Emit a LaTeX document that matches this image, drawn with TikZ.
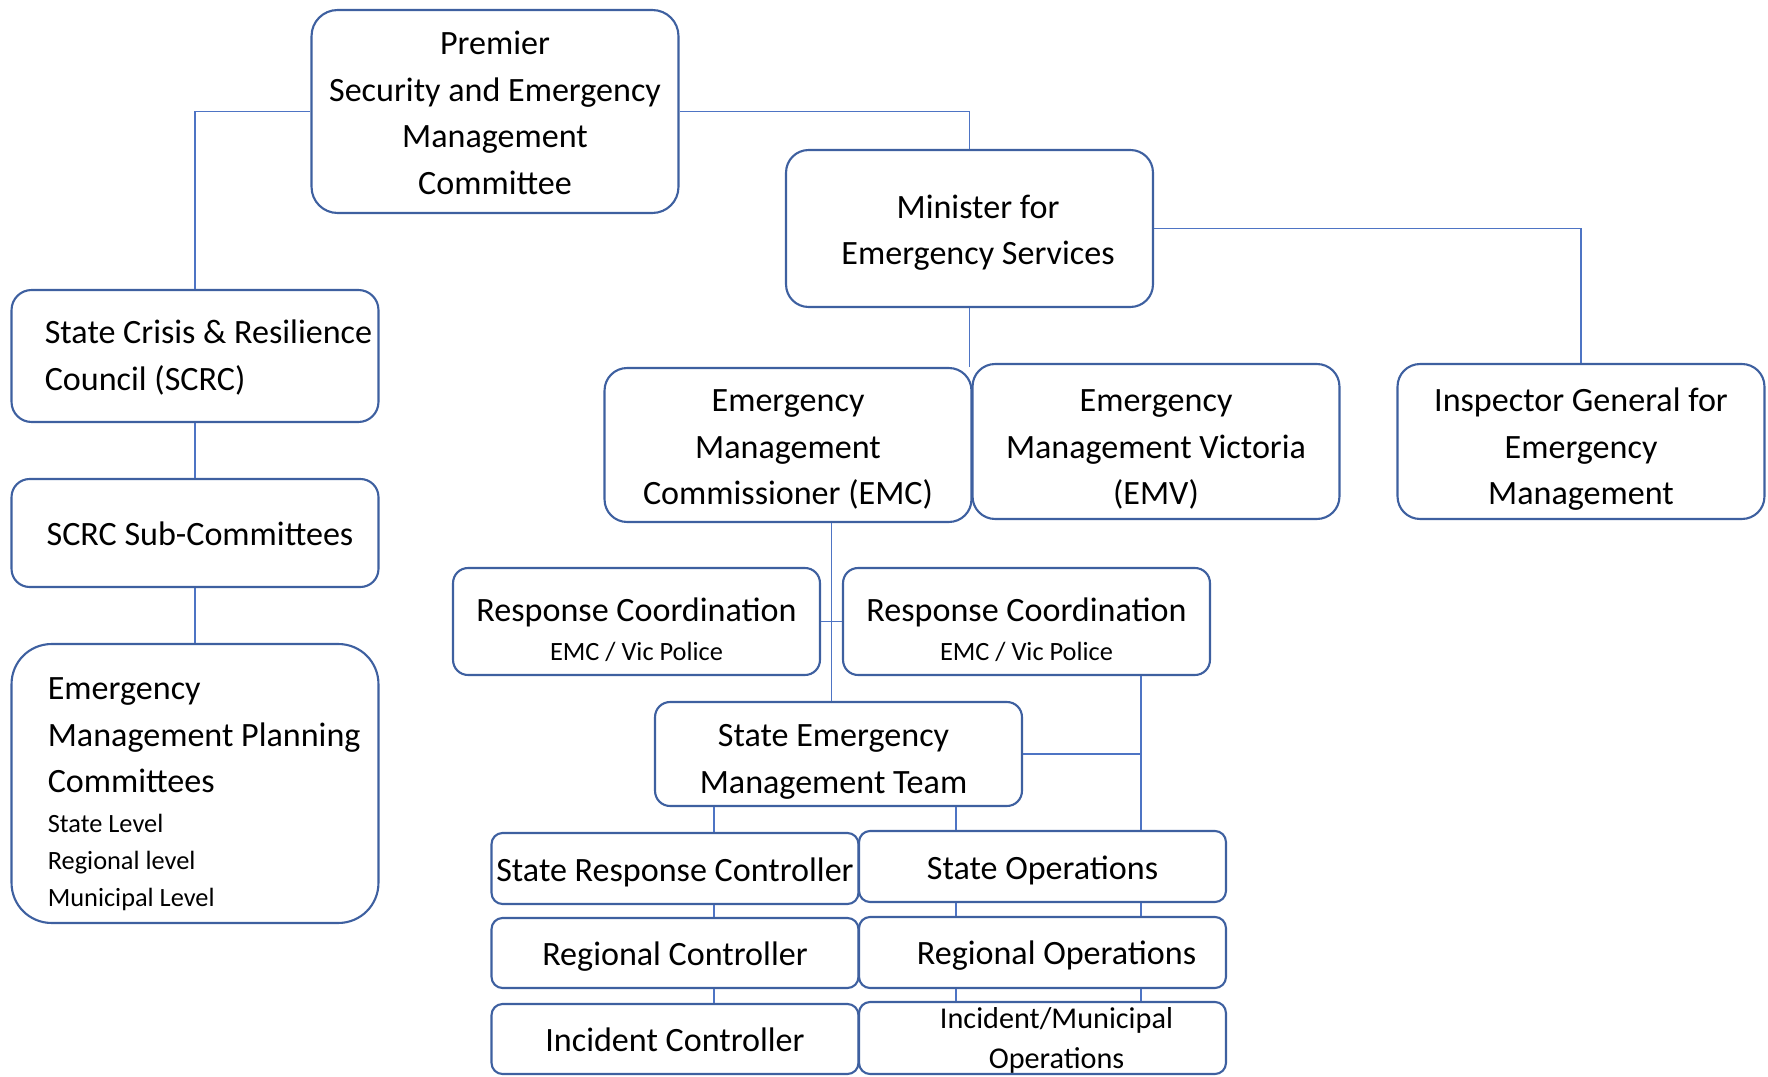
\documentclass[tikz,border=0pt]{standalone}
\usepackage{fontspec}
\setmainfont{Carlito}
\usepackage{tikz}
\definecolor{boxblue}{RGB}{62,96,160}
\definecolor{linkblue}{RGB}{78,116,196}
\newcommand\bigtxt{\fontsize{19.4}{26.4}\selectfont}
\newcommand\smalltxt{\fontsize{15}{21}\selectfont}

\begin{document}
\begin{tikzpicture}[x=0.02cm,y=-0.02cm,
    strut/.style={execute at begin node={\rule[-5pt]{0pt}{#1}}},
    box/.style={draw=boxblue,line width=1.2pt,fill=white,rounded corners=#1,
      minimum width=7.34cm,align=center,inner sep=0pt,font=\bigtxt,strut=24pt},
    box/.default=0.3cm,
    link/.style={draw=linkblue,line width=0.8pt},
    lefttxt/.style={anchor=west,align=left,inner sep=0pt,font=\bigtxt}]
  \useasboundingbox (0,0) rectangle (1768,1077);

  \node[box=0.52cm,minimum height=4.06cm,strut=104pt] (prem) at (495,111.5)
    {Premier\\Security and Emergency\\Management\\Committee};
  \node[box=0.45cm,minimum height=3.14cm,strut=51.2pt] (min) at (969.5,228.5)
    {\hspace*{0.34cm}Minister for\\\hspace*{0.34cm}Emergency Services};

  \node[box=0.4cm,minimum height=2.64cm] (scrc) at (195,356) {};
  \node[lefttxt] (scrctxt) at ([xshift=0.68cm,yshift=-0.03cm]scrc.west)
    {State Crisis \& Resilience\\Council (SCRC)};
  \node[box=0.36cm,minimum height=2.16cm] (scrcsub) at (195,533)
    {\hspace*{0.2cm}SCRC Sub-Committees};
  \node[box=0.8cm,minimum height=5.58cm] (empc) at (195,783.5) {};
  \node[lefttxt] (empctxt) at ([xshift=0.74cm,yshift=-0.22cm]empc.west)
    {Emergency\\Management Planning\\Committees\\[-3.5pt]
     \smalltxt State Level\\[-5.4pt]\smalltxt Regional level\\[-5.4pt]\smalltxt Municipal Level};

  \node[box=0.45cm,minimum height=3.08cm,strut=77.6pt] (emc) at (788,445)
    {Emergency\\Management\\Commissioner (EMC)};
  \node[box=0.45cm,minimum height=3.1cm,strut=81.9pt] (emv) at (1156,441.5)
    {Emergency\\Management Victoria\\(EMV)};
  \node[box=0.45cm,minimum height=3.1cm,strut=81.9pt] (igem) at (1581,441.5)
    {Inspector General for\\Emergency\\Management};

  \node[box,minimum height=2.14cm,strut=54.5pt] (rc1) at (636.5,621.5)
    {Response Coordination\\[-4pt]\smalltxt EMC / Vic Police};
  \node[box,minimum height=2.14cm,strut=54.5pt] (rc2) at (1026.5,621.5)
    {Response Coordination\\[-4pt]\smalltxt EMC / Vic Police};
  \node[box,minimum height=2.08cm,strut=54.4pt] (semt) at (838.5,754)
    {\hspace*{-0.2cm}State Emergency\\\hspace*{-0.2cm}Management Team};

  \node[box=0.22cm,minimum height=1.42cm,strut=25pt] (src) at (675,868.5) {State Response Controller};
  \node[box=0.22cm,minimum height=1.42cm,strut=25pt] (so) at (1042.5,866.5) {State Operations};
  \node[box=0.22cm,minimum height=1.4cm] (regc) at (675,953) {Regional Controller};
  \node[box=0.22cm,minimum height=1.42cm] (rego) at (1042.5,952.5)
    {\hspace*{0.56cm}Regional Operations};
  \node[box=0.22cm,minimum height=1.4cm] (ic) at (675,1039) {Incident Controller};
  \node[box=0.22cm,minimum height=1.44cm] (imo) at (1042.5,1038) {};
  \node[align=center,inner sep=0pt,font=\fontsize{17.2}{23}\selectfont] (imotxt)
    at ([yshift=-0.05cm]imo.center)
    {\hspace*{0.56cm}Incident/Municipal\\\hspace*{0.56cm}Operations};

  \coordinate (ctrlx) at (714,0);
  \coordinate (opsx) at (956,0);
  \coordinate (opsbus) at (1141,754);
  \path (rc1.east) -- coordinate[midway] (rcmid) (rc2.west);

  \draw[link] (prem.west) -| (scrc.north);
  \draw[link] (prem.east) -| (min.north);
  \draw[link] (min.east) -| (igem.north);
  \draw[link] (min.south) -- (min.south |- emc.north);
  \draw[link] (scrc.south) -- (scrcsub.north);
  \draw[link] (scrcsub.south) -- (empc.north);
  \draw[link] (rc1.east) -- (rc2.west);
  \draw[link] (emc.south -| rcmid) -- (semt.north -| rcmid);
  \draw[link] (semt.east) -- (semt.east -| opsbus);
  \foreach \a/\b in {semt/src,src/regc,regc/ic}
    \draw[link] (\a.south -| ctrlx) -- (\b.north -| ctrlx);
  \foreach \a/\b in {semt/so,so/rego,rego/imo}
    \draw[link] (\a.south -| opsx) -- (\b.north -| opsx);
  \foreach \a/\b in {rc2/so,so/rego,rego/imo}
    \draw[link] (\a.south -| opsbus) -- (\b.north -| opsbus);
\end{tikzpicture}
\end{document}
